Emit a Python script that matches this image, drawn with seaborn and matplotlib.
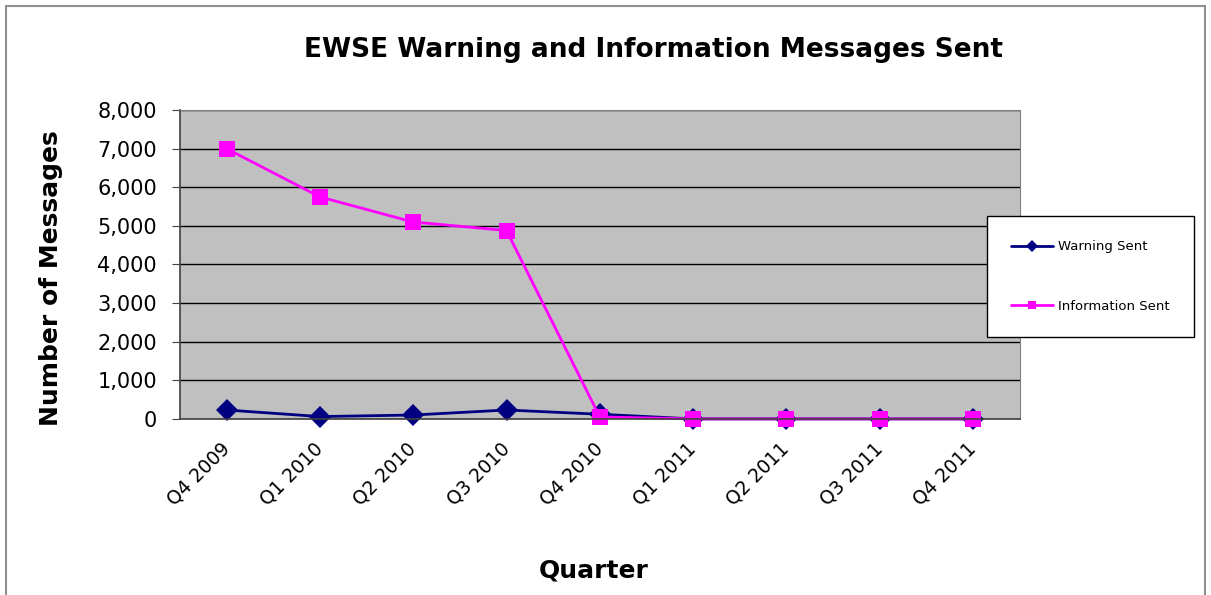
import numpy as np
import pandas as pd
import matplotlib
matplotlib.use('Agg')
import matplotlib.pyplot as plt
import matplotlib.ticker as mticker
import matplotlib.patches as patches
from matplotlib.transforms import ScaledTranslation
import seaborn as sns

quarters=['Q4 2009','Q1 2010','Q2 2010','Q3 2010','Q4 2010','Q1 2011','Q2 2011','Q3 2011','Q4 2011']
warning_sent=[230,60,100,230,120,0,0,0,0]
information_sent=[7000,5750,5100,4880,50,0,0,0,0]
series_names=['Warning Sent','Information Sent']

sns.set_style('white')
plt.rcParams['font.family']=['DejaVu Sans']
plt.rcParams['text.color']='black'
plt.rcParams['axes.labelcolor']='black'
plt.rcParams['xtick.color']='black'
plt.rcParams['ytick.color']='black'

df=pd.DataFrame({'Quarter':quarters*2,
                 'value':warning_sent+information_sent,
                 'series':[series_names[0]]*len(quarters)+[series_names[1]]*len(quarters)})
df['x']=list(range(len(quarters)))*2

fig=plt.figure(figsize=(12.11,5.95),dpi=100)
ax=fig.add_axes([0.1486,0.296,0.6934,0.519])
ax.set_facecolor('#c0c0c0')
sns.lineplot(data=df,x='x',y='value',hue='series',style='series',
             palette={'Warning Sent':'#000080','Information Sent':'#ff00ff'},
             markers={'Warning Sent':'D','Information Sent':'s'},dashes=False,
             markersize=11,linewidth=2,markeredgewidth=0,ax=ax)
for ln in ax.lines:
    ln.set_clip_on(False)

ax.set_xlim(-0.5,len(quarters)-0.5)
ax.set_ylim(0,8000)
ax.yaxis.set_major_locator(mticker.MultipleLocator(1000))
ax.yaxis.set_major_formatter(mticker.FuncFormatter(lambda v,p:f'{int(v):,}'))
ax.set_xticks(range(len(quarters)))
ax.set_xticklabels(quarters,rotation=45,ha='right',va='center',rotation_mode='anchor',fontsize=13.5)
shift=ScaledTranslation(-5/100,0,fig.dpi_scale_trans)
for lab in ax.get_xticklabels():
    lab.set_transform(lab.get_transform()+shift)
ax.set_xticks(np.arange(-0.5,len(quarters),1),minor=True)
ax.tick_params(axis='x',which='major',length=0,pad=19.4)
ax.tick_params(axis='x',which='minor',length=5.8,color='#404040',direction='out')
ax.tick_params(axis='y',length=5.8,color='#404040',direction='out',labelsize=15,pad=10.8,left=True)
ax.grid(axis='y',color='black',linewidth=1)
ax.set_axisbelow(True)
for s in ['top','right']:
    ax.spines[s].set_color('#808080')
for s in ['left','bottom']:
    ax.spines[s].set_color('#404040')
    ax.spines[s].set_linewidth(1.2)

ax.set_xlabel('Quarter',fontsize=18,fontweight='bold')
ax.xaxis.label.set_va('baseline')
ax.xaxis.set_label_coords(0.4923,-0.5146)
ax.set_ylabel('Number of Messages',fontsize=18,fontweight='bold')
ax.yaxis.set_label_coords(-0.139,0.455)
fig.text(0.540,0.904,'EWSE Warning and Information Messages Sent',fontsize=19,fontweight='bold',ha='center',va='baseline')

leg=ax.legend(loc='upper left',bbox_to_anchor=(0.9607,0.657),borderaxespad=0,frameon=True,fancybox=False,
              edgecolor='black',fontsize=9.5,labelspacing=3.5,borderpad=1.85,
              handlelength=3.2,handletextpad=0.37,markerscale=0.55)
leg.set_title(None)
leg.get_frame().set_linewidth(1)
leg.get_frame().set_facecolor('white')
leg.get_frame().set_alpha(1)

fig.patches.append(patches.Rectangle((0.005,-0.01),0.99,1.0,transform=fig.transFigure,fill=False,edgecolor='#909090',linewidth=1.5))

fig.savefig('out.png',dpi=100,facecolor='white')
